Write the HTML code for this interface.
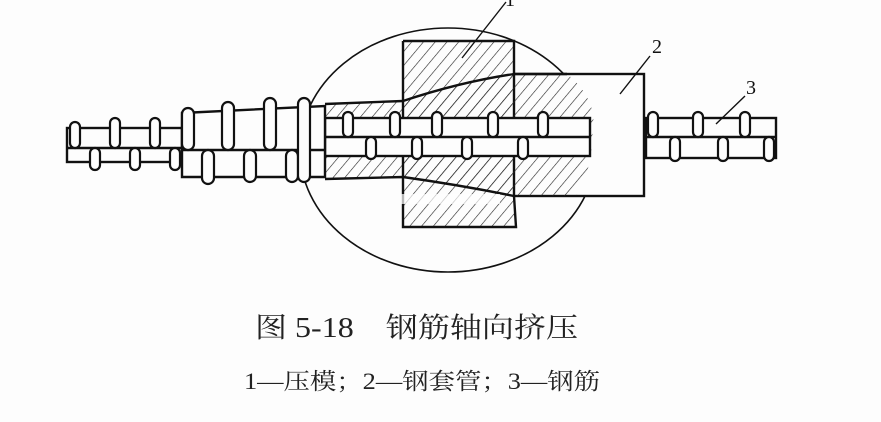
<!DOCTYPE html>
<html><head><meta charset="utf-8"><style>
html,body{margin:0;padding:0;background:#fdfdfd;}
svg{display:block}
</style></head><body>
<svg width="881" height="422" viewBox="0 0 881 422" xmlns="http://www.w3.org/2000/svg">
<defs>
<pattern id="h" width="9" height="9" patternUnits="userSpaceOnUse" patternTransform="rotate(40)">
<line x1="0" y1="0" x2="0" y2="9" stroke="#222" stroke-width="1.2"/>
</pattern>
</defs>
<rect width="881" height="422" fill="#fdfdfd"/>
<g stroke="#111" stroke-width="2.4" fill="none">
<ellipse cx="448" cy="150" rx="148" ry="122" stroke-width="1.6"/>
<rect x="514" y="74" width="130" height="122" fill="#fdfdfd"/>
<path d="M325,104 L403,101 Q460,82 514,74 L567,74 Q600,100 592,137 Q592,170 576,196 L514,196 Q460,185 403,177 L325,179 Z" fill="url(#h)" stroke="none"/>
<rect x="403" y="41" width="112" height="186" fill="url(#h)" stroke="none"/>
<path d="M325,104 L403,101 Q460,82 514,74 L567,74"/>
<path d="M325,179 L403,177 Q460,185 514,196"/>
<path d="M403,41 L514,41 L514,74"/>
<path d="M514,196 L516,227 L403,227 L403,41"/>
<rect x="400" y="194" width="100" height="10" fill="#fdfdfd" stroke="none" opacity="0.7"/>
<rect x="325" y="118" width="265" height="38" fill="#fdfdfd"/>
<line x1="325" y1="137" x2="590" y2="137"/>
<rect x="67" y="128" width="115" height="34" fill="#fdfdfd"/>
<line x1="67" y1="148" x2="182" y2="148"/>
<path d="M182,113 L325,106 L325,177 L182,177 Z" fill="#fdfdfd"/>
<line x1="182" y1="150" x2="325" y2="150"/>
<rect x="646" y="118" width="130" height="40" fill="#fdfdfd"/>
<line x1="646" y1="137" x2="776" y2="137"/>
</g>
<g stroke="#111" stroke-width="2.2" fill="#fdfdfd">
<rect x="70" y="122" width="10" height="26" rx="5"/>
<rect x="110" y="118" width="10" height="30" rx="5"/>
<rect x="150" y="118" width="10" height="30" rx="5"/>
<rect x="90" y="148" width="10" height="22" rx="5"/>
<rect x="130" y="148" width="10" height="22" rx="5"/>
<rect x="170" y="148" width="10" height="22" rx="5"/>
<rect x="182" y="108" width="12" height="42" rx="6"/>
<rect x="222" y="102" width="12" height="48" rx="6"/>
<rect x="264" y="98" width="12" height="52" rx="6"/>
<rect x="202" y="150" width="12" height="34" rx="6"/>
<rect x="244" y="150" width="12" height="32" rx="6"/>
<rect x="286" y="150" width="12" height="32" rx="6"/>
<rect x="298" y="98" width="12" height="84" rx="6"/>
<rect x="343" y="112" width="10" height="25" rx="5"/>
<rect x="390" y="112" width="10" height="25" rx="5"/>
<rect x="432" y="112" width="10" height="25" rx="5"/>
<rect x="488" y="112" width="10" height="25" rx="5"/>
<rect x="538" y="112" width="10" height="25" rx="5"/>
<rect x="366" y="137" width="10" height="22" rx="5"/>
<rect x="412" y="137" width="10" height="22" rx="5"/>
<rect x="462" y="137" width="10" height="22" rx="5"/>
<rect x="518" y="137" width="10" height="22" rx="5"/>
<rect x="648" y="112" width="10" height="25" rx="5"/>
<rect x="693" y="112" width="10" height="25" rx="5"/>
<rect x="740" y="112" width="10" height="25" rx="5"/>
<rect x="670" y="137" width="10" height="24" rx="5"/>
<rect x="718" y="137" width="10" height="24" rx="5"/>
<rect x="764" y="137" width="10" height="24" rx="5"/>
</g>
<g stroke="#111" stroke-width="1.4">
<line x1="506" y1="2" x2="462" y2="58"/>
<line x1="650" y1="56" x2="620" y2="94"/>
<line x1="745" y1="96" x2="716" y2="124"/>
</g>
<g font-family="Liberation Serif, serif" font-size="20" fill="#111">
<text x="505" y="6">1</text>
<text x="652" y="53">2</text>
<text x="746" y="94">3</text>
</g>
<text x="255" y="337" textLength="323" lengthAdjust="spacingAndGlyphs" font-family="Liberation Serif, 'Noto Serif CJK SC', serif" font-size="28" fill="#222">图 5-18　钢筋轴向挤压</text>
<text x="244" y="389" textLength="356" lengthAdjust="spacingAndGlyphs" font-family="Liberation Serif, 'Noto Serif CJK SC', serif" font-size="23" fill="#222">1—压模；2—钢套管；3—钢筋</text>
</svg>
</body></html>
